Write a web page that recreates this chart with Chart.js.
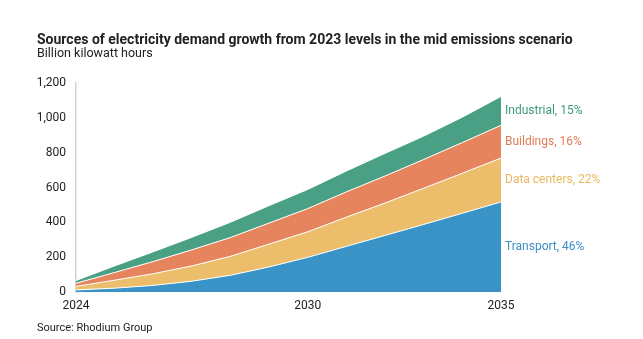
<!DOCTYPE html>
<html>
<head>
<meta charset="utf-8">
<script src="https://cdn.jsdelivr.net/npm/chart.js@4/dist/chart.umd.min.js"></script>
<style>
    html, body { margin: 0; padding: 0; background: #fff; }
    #wrap { position: relative; width: 643px; height: 339px; font-family: Roboto, sans-serif; color: #222; }
    #title { position: absolute; left: 37px; top: 31px; font-size: 14px; font-weight: bold; white-space: nowrap; }
    #subtitle { position: absolute; left: 37px; top: 45px; font-size: 12.5px; white-space: nowrap; }
    #source { position: absolute; left: 37px; top: 321px; font-size: 11px; white-space: nowrap; }
    #chart { position: absolute; left: 0; top: 0; }
</style>
</head>
<body>
<div id="wrap">
    <canvas id="chart" width="643" height="339"></canvas>
    <div id="title">Sources of electricity demand growth from 2023 levels in the mid emissions scenario</div>
    <div id="subtitle">Billion kilowatt hours</div>
    <div id="source">Source: Rhodium Group</div>
</div>
<script>
'use strict';

// values, billion kWh above 2023 levels
let years = ['2024', '2025', '2026', '2027', '2028', '2029', '2030', '2031', '2032', '2033', '2034', '2035'];
let shownYears = ['2024', '2030', '2035'];

let transport = [12, 22, 38, 62, 96, 144, 199, 262, 325, 388, 452, 517];
let dataCenters = [20, 46, 67, 88, 109, 131, 147, 168, 186, 208, 230, 252];
let buildings = [18, 44, 70, 92, 108, 121, 133, 145, 155, 165, 176, 188];
let industrial = [16, 38, 56, 72, 88, 100, 110, 120, 130, 134, 146, 166];

let seriesNames = ['Transport, 46%', 'Data centers, 22%', 'Buildings, 16%', 'Industrial, 15%'];
let seriesColors = ['#3a93c7', '#ecbe6b', '#e6845e', '#4aa084'];
let labelColors = ['#3a8fc4', '#e8b85e', '#e27b53', '#3f9a7c'];

function makeDataset(i, values) {
    return {
        label: seriesNames[i],
        data: values,
        backgroundColor: seriesColors[i],
        borderColor: '#ffffff',
        borderWidth: 1,
        pointRadius: 0,
        tension: 0,
        fill: i === 0 ? 'origin' : '-1'
    };
}

// writes the series names next to the last point, in the middle of each band
let endLabels = {
    id: 'endLabels',
    afterDatasetsDraw(chart) {
        let ctx = chart.ctx;
        let y = chart.scales.y;
        let last = years.length - 1;
        let base = 0;
        ctx.save();
        ctx.font = '12px Roboto';
        ctx.textBaseline = 'middle';
        ctx.textAlign = 'left';
        chart.data.datasets.forEach((ds, i) => {
            let top = base + ds.data[last];
            let mid = y.getPixelForValue((base + top) / 2);
            ctx.fillStyle = labelColors[i];
            ctx.fillText(ds.label, chart.chartArea.right + 4, mid);
            base = top;
        });
        ctx.restore();
    }
};

let chart = new Chart(document.getElementById('chart').getContext('2d'), {
    type: 'line',
    data: {
        labels: years,
        datasets: [
            makeDataset(0, transport),
            makeDataset(1, dataCenters),
            makeDataset(2, buildings),
            makeDataset(3, industrial)
        ]
    },
    options: {
        responsive: false,
        animation: false,
        layout: { padding: { top: 83, right: 142, left: 0, bottom: 0 } },
        plugins: {
            legend: { display: false },
            tooltip: { enabled: false }
        },
        scales: {
            x: {
                offset: false,
                grid: { display: false, drawTicks: false },
                border: { display: false },
                ticks: {
                    autoSkip: false,
                    maxRotation: 0,
                    padding: 7,
                    color: '#222',
                    font: { family: 'Roboto', size: 12 },
                    callback: function (value) {
                        let label = this.getLabelForValue(value);
                        return shownYears.includes(label) ? label : '';
                    }
                },
                afterFit: function (scale) { scale.height = 47; }
            },
            y: {
                stacked: true,
                min: 0,
                max: 1200,
                grid: { display: false, drawTicks: false },
                border: { display: true, color: '#d4d4d4', width: 1.5 },
                ticks: {
                    stepSize: 200,
                    padding: 10,
                    color: '#222',
                    font: { family: 'Roboto', size: 12 }
                },
                afterFit: function (scale) { scale.width = 76; }
            }
        }
    },
    plugins: [endLabels]
});
</script>
</body>
</html>
